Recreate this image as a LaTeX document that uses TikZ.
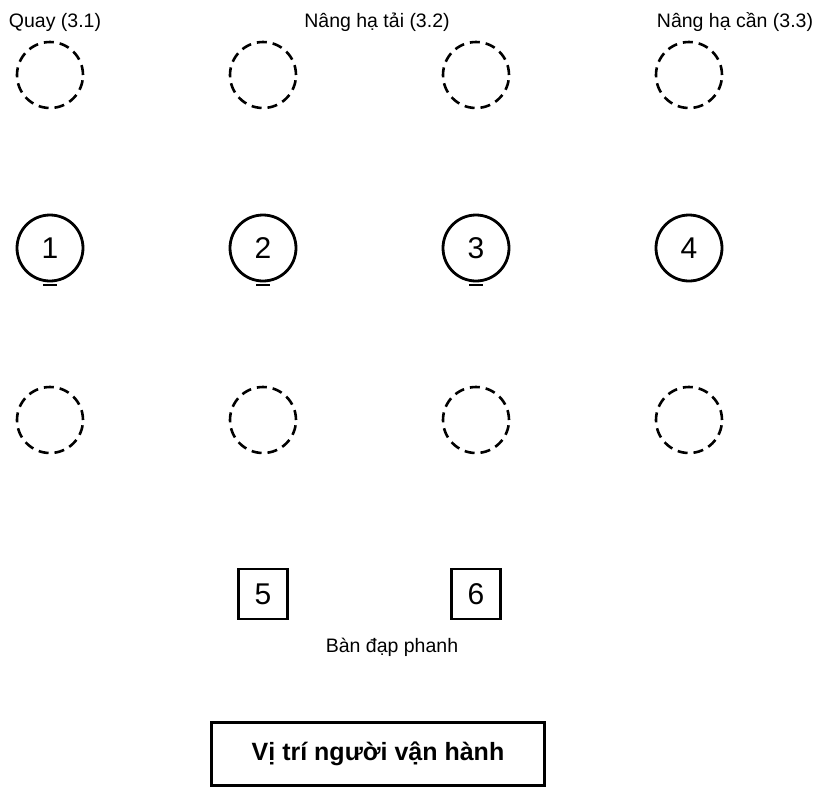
\documentclass[tikz,border=0pt]{standalone}
\usepackage{fontspec}
\setmainfont{Liberation Sans}
\usetikzlibrary{positioning}

\tikzset{
  lever/.style={circle, draw, line width=2.8pt, minimum size=66pt, inner sep=0pt, outer sep=0pt, font=\fontsize{30}{30}\selectfont},
  ghost/.style={circle, draw, line width=2.6pt, dash pattern=on 10pt off 6pt, minimum size=66pt, inner sep=0pt, outer sep=0pt},
  pedal/.style={rectangle, draw, line width=2.8pt, minimum width=49pt, minimum height=50pt, inner sep=0pt, outer sep=0pt, font=\fontsize{30}{30}\selectfont},
  caption/.style={anchor=base, font=\fontsize{19.5}{22}\selectfont},
  nub/.style={line width=2pt},
}

\begin{document}
\begin{tikzpicture}[x=1pt, y=1pt, node distance=147pt]
  \useasboundingbox (0,0) rectangle (817,-788);
  \node[lever] (mid1) at (50,-248) {1};
  \node[lever, right=of mid1] (mid2) {2};
  \node[lever, right=of mid2] (mid3) {3};
  \node[lever, right=of mid3] (mid4) {4};
  \node[ghost, above=107pt of mid1] (up1) {};
  \node[ghost, above=107pt of mid2] (up2) {};
  \node[ghost, above=107pt of mid3] (up3) {};
  \node[ghost, above=107pt of mid4] (up4) {};
  \node[ghost, below=106pt of mid1] (low1) {};
  \node[ghost, below=106pt of mid2] (low2) {};
  \node[ghost, below=106pt of mid3] (low3) {};
  \node[ghost, below=106pt of mid4] (low4) {};
  \draw[nub] ([yshift=-4pt]mid1.south) ++(-7,0) -- ++(14,0);
  \draw[nub] ([yshift=-4pt]mid2.south) ++(-7,0) -- ++(14,0);
  \draw[nub] ([yshift=-4pt]mid3.south) ++(-7,0) -- ++(14,0);
  \node[caption] (cap1) at (55,-27) {Quay (3.1)};
  \node[caption] (cap2) at (377,-27) {Nâng hạ tải (3.2)};
  \node[caption] (cap3) at (735,-27) {Nâng hạ cần (3.3)};
  \node[pedal, below=116pt of low2] (p5) {5};
  \node[pedal, below=116pt of low3] (p6) {6};
  \node[caption] (brake) at (392,-652) {Bàn đạp phanh};
  \node[draw, line width=2.8pt, minimum width=333pt, minimum height=63pt,
        font=\fontsize{25}{30}\selectfont\bfseries] (seat) at (378,-754) {Vị trí người vận hành};
\end{tikzpicture}
\end{document}
